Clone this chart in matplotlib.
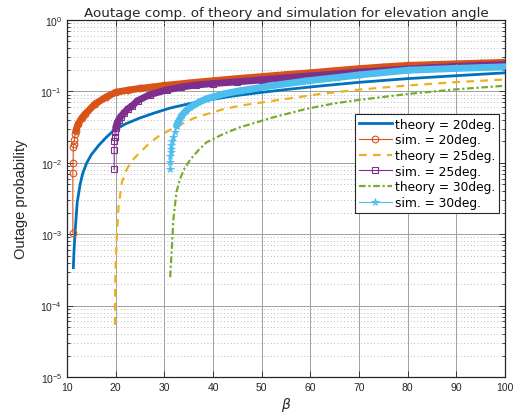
import matplotlib
matplotlib.use('Agg')
import matplotlib.pyplot as plt
from matplotlib.ticker import LogLocator, NullFormatter, FixedLocator

plt.rcParams['font.family'] = ['Liberation Sans', 'DejaVu Sans']

# ---------------- data ----------------
x_ticks = [10, 20, 30, 40, 50, 60, 70, 80, 90, 100]

th20_x = [11.3, 11.45, 11.65, 12.1, 12.7, 13.2, 14.0, 15.0, 16.5, 18.0, 19.5, 22.0, 25.0, 28.0,
          31.2, 35.0, 38.7, 44.0, 50.0, 56.0, 62.0, 70.0, 80.0, 90.0, 100.0]
th20_y = [3.4e-4, 6.0e-4, 1.05e-3, 2.8e-3, 5.0e-3, 7.0e-3, 9.8e-3, 1.3e-2, 1.75e-2, 2.25e-2,
          2.8e-2, 3.5e-2, 4.25e-2, 5.0e-2, 5.85e-2, 6.7e-2, 7.5e-2, 8.6e-2, 9.7e-2, 1.08e-1,
          1.19e-1, 1.34e-1, 1.51e-1, 1.66e-1, 1.82e-1]

sim20_x = [11.2, 11.2, 11.25, 11.3, 11.4, 11.5, 11.65, 11.8, 12.3, 13.0, 13.7, 15.8, 18.0,
           20.0, 22.5, 25.0, 27.5, 30.0, 35.0, 40.0, 45.0, 50.0, 55.0, 60.0, 65.0, 70.0,
           75.0, 80.0, 85.0, 90.0, 95.0, 100.0]
sim20_y = [1.04e-3, 7.1e-3, 1.0e-2, 1.65e-2, 1.83e-2, 2.1e-2, 2.5e-2, 2.8e-2, 3.5e-2, 4.2e-2,
           4.8e-2, 6.7e-2, 8.3e-2, 9.7e-2, 1.04e-1, 1.1e-1, 1.15e-1, 1.21e-1, 1.31e-1, 1.41e-1,
           1.51e-1, 1.61e-1, 1.72e-1, 1.82e-1, 1.95e-1, 2.08e-1, 2.2e-1, 2.31e-1, 2.37e-1,
           2.43e-1, 2.49e-1, 2.55e-1]

th25_x = [19.85, 19.87, 19.9, 20.05, 20.25, 20.6, 21.3, 22.3, 23.5, 25.0, 27.0, 28.8, 31.2,
          33.2, 36.0, 38.7, 42.0, 45.5, 52.4, 58.0, 62.0, 70.0, 80.0, 90.0, 100.0]
th25_y = [5.4e-5, 1.0e-4, 1.9e-4, 4.5e-4, 9.5e-4, 2.5e-3, 5.4e-3, 8.2e-3, 1.1e-2, 1.4e-2,
          1.9e-2, 2.35e-2, 2.9e-2, 3.4e-2, 4.2e-2, 4.8e-2, 5.6e-2, 6.3e-2, 7.4e-2, 8.4e-2,
          9.2e-2, 1.06e-1, 1.21e-1, 1.35e-1, 1.47e-1]

sim25_x = [19.7, 19.7, 19.75, 19.8, 19.9, 20.0, 20.3, 20.6, 21.0, 21.7, 22.5, 23.3, 24.5,
           27.0, 30.5, 33.5, 36.6, 40.0, 45.0, 50.0, 55.0, 60.0, 65.0, 70.0, 75.0, 80.0,
           85.0, 90.0, 95.0, 100.0]
sim25_y = [8.1e-3, 1.53e-2, 2.0e-2, 2.3e-2, 2.7e-2, 3.1e-2, 3.6e-2, 4.0e-2, 4.4e-2, 5.0e-2,
           5.7e-2, 6.2e-2, 7.4e-2, 9.0e-2, 1.05e-1, 1.15e-1, 1.23e-1, 1.29e-1, 1.36e-1, 1.45e-1,
           1.55e-1, 1.65e-1, 1.75e-1, 1.86e-1, 1.96e-1, 2.06e-1, 2.15e-1, 2.24e-1, 2.31e-1,
           2.38e-1]

th30_x = [31.2, 31.5, 31.85, 32.5, 33.2, 34.2, 35.3, 37.0, 38.7, 42.1, 45.5, 52.4, 59.2,
          65.0, 70.0, 80.0, 90.0, 100.0]
th30_y = [2.5e-4, 5.6e-4, 1.6e-3, 3.9e-3, 5.9e-3, 8.5e-3, 1.1e-2, 1.5e-2, 1.94e-2, 2.53e-2,
          3.14e-2, 4.34e-2, 5.7e-2, 6.8e-2, 7.6e-2, 9.2e-2, 1.07e-1, 1.2e-1]

sim30_x = [31.2, 31.2, 31.25, 31.3, 31.35, 31.45, 31.6, 31.8, 32.1, 32.5, 33.0, 33.6, 34.4,
           35.3, 37.0, 38.7, 42.1, 45.5, 52.4, 59.2, 65.4, 70.0, 80.0, 90.0, 100.0]
sim30_y = [8.2e-3, 1.04e-2, 1.25e-2, 1.4e-2, 1.56e-2, 1.75e-2, 2.0e-2, 2.3e-2, 2.7e-2, 3.3e-2,
           3.9e-2, 4.6e-2, 5.3e-2, 6.0e-2, 7.0e-2, 7.9e-2, 9.2e-2, 1.02e-1, 1.21e-1, 1.40e-1,
           1.56e-1, 1.70e-1, 1.98e-1, 2.10e-1, 2.21e-1]

labels = ['theory = 20deg.', 'sim. = 20deg.', 'theory = 25deg.', 'sim. = 25deg.',
          'theory = 30deg.', 'sim. = 30deg.']

# index where the simulation markers merge into a dense band
band_start = {'20': 7, '25': 5, '30': 9}

# ---------------- styling ----------------
c_blue, c_orange, c_yellow = '#0072BD', '#D95319', '#EDB120'
c_purple, c_green, c_lblue = '#7E2F8E', '#77AC30', '#4DBEEE'

fig = plt.figure(figsize=(5.17, 4.14), dpi=100)
ax = fig.add_axes([67 / 517, 1 - 378 / 414, 438 / 517, 357 / 414])
ax.set_yscale('log')

band_lw = 5.0
ms = 4.8

ax.plot(th20_x, th20_y, color=c_blue, lw=2.0, label=labels[0], zorder=3)

b = band_start['20']
ax.plot(sim20_x[b:], sim20_y[b:], color=c_orange, lw=band_lw, solid_capstyle='round', zorder=4)
ax.plot(sim20_x, sim20_y, color=c_orange, lw=0.8, marker='o', ms=ms, mfc='none', mew=0.8,
        label=labels[1], zorder=4)

ax.plot(th25_x, th25_y, color=c_yellow, lw=1.6, ls=(0, (3.5, 2.8)), label=labels[2], zorder=5)

b = band_start['25']
ax.plot(sim25_x[b:], sim25_y[b:], color=c_purple, lw=band_lw, solid_capstyle='round', zorder=6)
ax.plot(sim25_x, sim25_y, color=c_purple, lw=0.8, marker='s', ms=ms - 0.4, mfc='none', mew=0.8,
        label=labels[3], zorder=6)

ax.plot(th30_x, th30_y, color=c_green, lw=1.6, ls=(0, (3.0, 1.2, 1.0, 1.2)), label=labels[4], zorder=7)

b = band_start['30']
ax.plot(sim30_x[b:], sim30_y[b:], color=c_lblue, lw=band_lw, solid_capstyle='round', zorder=8)
ax.plot(sim30_x, sim30_y, color=c_lblue, lw=0.8, marker='*', ms=ms + 0.6, mew=0.6,
        label=labels[5], zorder=8)

ax.set_xlim(10, 100)
ax.set_ylim(1e-5, 1)
ax.xaxis.set_major_locator(FixedLocator(x_ticks))
ax.yaxis.set_major_locator(LogLocator(base=10, numticks=10))
ax.yaxis.set_minor_locator(LogLocator(base=10, subs=range(2, 10), numticks=20))
ax.yaxis.set_minor_formatter(NullFormatter())

ax.grid(True, which='major', color='#a0a0a0', lw=0.7, ls='-', zorder=0)
ax.grid(True, which='minor', axis='y', color='#a4a4a4', lw=0.6, ls=(0, (1, 3)), zorder=0)
ax.set_axisbelow(True)

ax.tick_params(which='both', direction='in', top=True, right=True, colors='#262626',
               labelsize=7.5, width=0.6)
ax.tick_params(which='major', length=4)
ax.tick_params(which='minor', length=2)
for s in ax.spines.values():
    s.set_color('#262626')
    s.set_linewidth(0.9)

ax.set_title('Aoutage comp. of theory and simulation for elevation angle', fontsize=9.7,
             family=['DejaVu Sans'], color='#262626', pad=3)
ax.set_ylabel('Outage probability', fontsize=10.5, color='#262626', labelpad=9)
ax.set_xlabel(r'$\beta$', fontsize=10, color='#262626', labelpad=2)

leg = ax.legend(loc='upper right', bbox_to_anchor=(0.986, 0.737),
                prop={'family': 'DejaVu Sans', 'size': 8.8},
                frameon=True, fancybox=False, edgecolor='#262626', framealpha=1,
                handlelength=2.7, handletextpad=0.25, labelspacing=0.22, borderpad=0.3,
                borderaxespad=0, numpoints=1)
leg.get_frame().set_linewidth(0.8)
leg.set_zorder(20)

fig.savefig('out.png', dpi=100)
